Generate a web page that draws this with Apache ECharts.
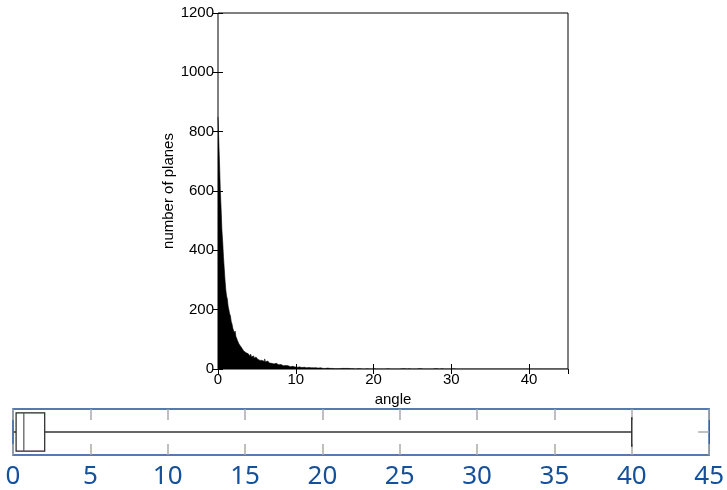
<!DOCTYPE html>
<html>
<head>
<meta charset="utf-8">
<script src="https://cdn.jsdelivr.net/npm/echarts@6/dist/echarts.min.js"></script>
<style>
html, body { margin: 0; padding: 0; background: #fff; }
#main { width: 727px; height: 490px; }
</style>
</head>
<body>
<div id="main"></div>
<script>
// histogram of angles, bins of 0.1 degree starting at 0
var binWidth = 0.1;
var planeCounts = [
    850, 770, 690, 600, 540, 470, 430, 380, 340, 300,
    268, 246, 236, 212, 207, 186, 179, 160, 152, 138,
    137, 121, 128, 110, 108, 96, 98, 84, 86, 77,
    78, 69, 71, 61, 63, 55, 57, 52, 51, 47,
    48, 43, 50, 41, 40, 44, 37, 36, 40, 34,
    33, 36, 30, 29, 33, 27, 29, 26, 31, 25,
    34, 24, 23, 27, 21, 23, 20, 25, 19, 18,
    20, 17, 19, 16, 19, 15, 17, 14, 16, 13,
    15, 12, 14, 11, 15, 10, 12, 13, 9, 11,
    10, 11, 8, 10, 7, 9, 10, 7, 7, 8,
    8, 6, 9, 5, 7, 6, 8, 5, 6, 5,
    6, 5, 6, 4, 4, 5, 5, 4, 6, 4,
    4, 5, 4, 3, 4, 4, 3, 5, 3, 3,
    3, 4, 3, 3, 2, 3, 3, 2, 4, 2,
    3, 2, 3, 2, 2, 3, 2, 2, 2, 1,
    2, 2, 1, 2, 2, 1, 2, 1, 2, 1,
    1, 2, 1, 1, 2, 1, 1, 2, 1, 1,
    1, 1, 2, 1, 1, 1, 0, 1, 1, 1,
    1, 0, 1, 1, 1, 0, 1, 1, 0, 1,
    1, 1, 0, 1, 0, 1, 1, 0, 1, 0,
    1, 0, 1, 0, 0, 1, 0, 1, 0, 0,
    0, 1, 0, 0, 1, 0, 0, 0, 1, 0,
    1, 0, 0, 1, 0, 0, 1, 0, 0, 0,
    0, 0, 1, 0, 0, 0, 1, 0, 0, 1,
    0, 1, 0, 0, 0, 1, 0, 0, 0, 0,
    0, 0, 1, 0, 0, 0, 0, 1, 0, 0,
    1, 0, 0, 0, 0, 1, 0, 0, 0, 0,
    0, 0, 0, 1, 0, 0, 0, 0, 1, 0,
    0, 1, 0, 0, 0, 0, 0, 1, 0, 0,
    0, 0, 0, 0, 1, 0, 0, 0, 0, 0,
    0, 0, 1, 0, 0, 0, 0, 0, 0, 1,
    0, 0, 0, 0, 0, 1, 0, 0, 0, 0,
    0, 0, 0, 0, 0, 0, 0, 0, 1, 0,
    0, 0, 0, 1, 0, 0, 0, 0, 0, 0,
    0, 0, 0, 0, 0, 0, 1, 0, 0, 0,
    0, 0, 0, 0, 0, 0, 0, 0, 0, 0,
    0, 0, 0, 0, 0, 0, 0, 0, 0, 0,
    0, 0, 0, 0, 0, 0, 0, 0, 0, 0,
    0, 0, 0, 0, 0, 0, 0, 0, 0, 0,
    0, 0, 0, 0, 0, 0, 0, 0, 0, 0,
    0, 0, 0, 0, 0, 0, 0, 0, 0, 0,
    0, 0, 0, 0, 0, 0, 0, 0, 0, 0,
    0, 0, 0, 0, 0, 0, 0, 0, 0, 0,
    0, 0, 0, 0, 0, 0, 0, 0, 0, 0,
    0, 0, 0, 0, 0, 0, 0, 0, 0, 0
];
// min, q1, median, q3, max of the angles
var boxStats = [0, 0.2, 0.7, 2.05, 40];
var boxCategory = ['angle'];
var angleMin = 0, angleMax = 45;

var histData = planeCounts.map(function (c, i) {
    return [+(i * binWidth).toFixed(1), c];
});
histData.push([angleMax, 0]);

var myChart = echarts.init(document.getElementById('main'));

var blackFont = { fontFamily: 'Liberation Sans', fontSize: 15, color: '#000' };
var frameBlue = '#1f4e96';
var tickGray = '#aaaaaa';
var blackTick = { show: true, inside: true, length: 5, lineStyle: { color: '#000', width: 1 } };
var grayTick = { show: true, inside: true, length: 11, lineStyle: { color: tickGray, width: 1.5 } };
var plainNum = function (v) { return String(v); };

var option = {
    animation: false,
    grid: [{
        left: 218, top: 13, width: 350, height: 356,
        show: true, borderColor: '#000', borderWidth: 1, backgroundColor: 'transparent'
    }, {
        left: 13, top: 409, width: 697, height: 47,
        show: true, borderColor: frameBlue, borderWidth: 1.5, backgroundColor: 'transparent'
    }],
    xAxis: [{
        type: 'value', gridIndex: 0, min: angleMin, max: angleMax, interval: 10,
        name: 'angle', nameLocation: 'middle', nameGap: 8,
        nameTextStyle: blackFont,
        axisLine: { show: false },
        axisTick: blackTick,
        axisLabel: Object.assign({ margin: 3, showMaxLabel: false, formatter: plainNum }, blackFont),
        splitLine: { show: false }
    }, {
        type: 'value', gridIndex: 0, position: 'top', min: angleMin, max: angleMax, interval: 10,
        axisLine: { show: false },
        axisTick: blackTick,
        axisLabel: { show: false },
        splitLine: { show: false }
    }, {
        type: 'value', gridIndex: 1, min: angleMin, max: angleMax, interval: 5,
        axisLine: { show: false },
        axisTick: grayTick,
        axisLabel: { margin: 9, fontFamily: 'Noto Sans', fontSize: 26, color: '#15509a', formatter: plainNum },
        splitLine: { show: false }
    }, {
        type: 'value', gridIndex: 1, position: 'top', min: angleMin, max: angleMax, interval: 5,
        axisLine: { show: false },
        axisTick: grayTick,
        axisLabel: { show: false },
        splitLine: { show: false }
    }],
    yAxis: [{
        type: 'value', gridIndex: 0, min: 0, max: 1200, interval: 200,
        name: 'number of planes', nameLocation: 'middle', nameGap: 38,
        nameTextStyle: blackFont,
        axisLine: { show: false },
        axisTick: blackTick,
        axisLabel: Object.assign({ margin: 4, formatter: plainNum }, blackFont),
        splitLine: { show: false }
    }, {
        type: 'value', gridIndex: 0, position: 'right', min: 0, max: 1200, interval: 200,
        axisLine: { show: false },
        axisTick: blackTick,
        axisLabel: { show: false },
        splitLine: { show: false }
    }, {
        type: 'category', gridIndex: 1, data: boxCategory,
        axisLine: { show: false },
        axisTick: { show: false },
        axisLabel: { show: false }
    }],
    series: [{
        type: 'line',
        xAxisIndex: 0, yAxisIndex: 0,
        data: histData,
        step: 'end',
        symbol: 'none',
        lineStyle: { color: '#000', width: 0.6 },
        areaStyle: { color: '#000', opacity: 1 }
    }, {
        type: 'custom',
        xAxisIndex: 2, yAxisIndex: 2,
        data: [[boxStats[0], boxStats[1], boxStats[2], boxStats[3], boxStats[4], 0]],
        encode: { x: [0, 1, 2, 3, 4], y: 5 },
        renderItem: function (params, api) {
            var cat = api.value(5);
            var pMin = api.coord([api.value(0), cat]);
            var pQ1 = api.coord([api.value(1), cat]);
            var pMed = api.coord([api.value(2), cat]);
            var pQ3 = api.coord([api.value(3), cat]);
            var pMax = api.coord([api.value(4), cat]);
            var pLeft = api.coord([angleMin, cat]);
            var pRight = api.coord([angleMax, cat]);
            var band = api.size([0, 1])[1];
            var boxH = band * 0.83;
            var capH = band * 0.64;
            var cy = pMin[1];
            return {
                type: 'group',
                children: [
                    // category ticks on both sides of the frame
                    { type: 'line', shape: { x1: pLeft[0], y1: cy, x2: pLeft[0] + 11, y2: cy },
                      style: { stroke: tickGray, lineWidth: 1.5 } },
                    { type: 'line', shape: { x1: pRight[0] - 11, y1: cy, x2: pRight[0], y2: cy },
                      style: { stroke: tickGray, lineWidth: 1.5 } },
                    { type: 'line', shape: { x1: pMin[0], y1: cy, x2: pQ1[0], y2: cy },
                      style: { stroke: '#666', lineWidth: 2 } },
                    { type: 'line', shape: { x1: pQ3[0], y1: cy, x2: pMax[0], y2: cy },
                      style: { stroke: '#666', lineWidth: 2 } },
                    { type: 'line', shape: { x1: pMax[0], y1: cy - capH / 2, x2: pMax[0], y2: cy + capH / 2 },
                      style: { stroke: '#333', lineWidth: 1.5 } },
                    { type: 'rect', shape: { x: pQ1[0], y: cy - boxH / 2, width: pQ3[0] - pQ1[0], height: boxH },
                      style: { fill: '#fff', stroke: '#222', lineWidth: 1.2 } },
                    { type: 'line', shape: { x1: pMed[0], y1: cy - boxH / 2, x2: pMed[0], y2: cy + boxH / 2 },
                      style: { stroke: '#555', lineWidth: 1.2 } }
                ]
            };
        }
    }]
};

myChart.setOption(option);
</script>
</body>
</html>
